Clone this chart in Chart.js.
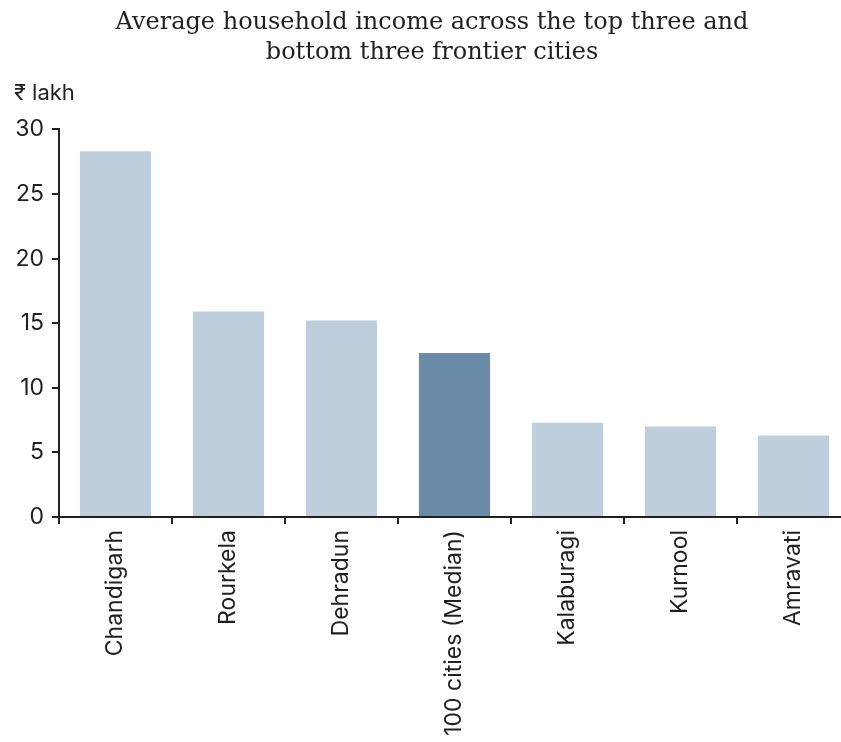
<!DOCTYPE html>
<html>
<head>
<meta charset="utf-8">
<script src="https://cdn.jsdelivr.net/npm/chart.js@4"></script>
<style>
  html, body { margin: 0; padding: 0; background: #ffffff; overflow: hidden; }
  #wrap { width: 864px; height: 742px; position: relative; }
</style>
</head>
<body>
<div id="wrap"><canvas id="chart"></canvas></div>
<script>
// Average household income, ₹ lakh
const cities = ['Chandigarh', 'Rourkela', 'Dehradun', '100 cities (Median)', 'Kalaburagi', 'Kurnool', 'Amravati'];
const income = [28.3, 15.9, 15.2, 12.7, 7.3, 7.0, 6.3];
const yTicks = [0, 5, 10, 15, 20, 25, 30];
const titleLines = ['Average household income across the top three and', 'bottom three frontier cities'];
const unitLabel = '₹ lakh';

const cityColor = '#bfcedc';
const medianColor = '#6a8ba8';
const axisColor = '#231f20';
const sansFont = "Inter, 'Noto Sans', 'DejaVu Sans', sans-serif";

new Chart(document.getElementById('chart'), {
  type: 'bar',
  data: {
    labels: cities,
    datasets: [{
      data: income,
      backgroundColor: cities.map(c => c.includes('Median') ? medianColor : cityColor),
      borderWidth: 0,
      categoryPercentage: 1,
      barPercentage: 0.63
    }]
  },
  options: {
    responsive: true,
    maintainAspectRatio: false,
    animation: false,
    layout: { padding: { left: 14, right: 14, top: 8, bottom: 0 } },
    plugins: {
      legend: { display: false },
      tooltip: { enabled: false },
      title: {
        display: true,
        text: titleLines,
        color: '#231f20',
        font: { family: "'DejaVu Serif', serif", size: 24, weight: 'normal', lineHeight: 1.25 },
        padding: { top: 0, bottom: 12 }
      },
      subtitle: {
        display: true,
        text: unitLabel,
        align: 'start',
        color: '#231f20',
        font: { family: sansFont, size: 22, weight: 'normal', lineHeight: 1.2 },
        padding: { top: 0, bottom: 23 }
      }
    },
    scales: {
      x: {
        afterFit: s => { s.height = 225; },
        grid: { display: true, drawOnChartArea: false, offset: true, tickLength: 7, color: axisColor, lineWidth: 2 },
        border: { display: true, color: axisColor, width: 2 },
        ticks: {
          color: '#231f20',
          font: { family: sansFont, size: 23 },
          maxRotation: 90,
          minRotation: 90,
          autoSkip: false,
          padding: 6
        }
      },
      y: {
        min: 0,
        max: 30,
        afterBuildTicks: s => { s.ticks = yTicks.map(v => ({ value: v })); },
        afterFit: s => { s.width = 45; },
        grid: { display: true, drawOnChartArea: false, tickLength: 7, color: axisColor, lineWidth: 2 },
        border: { display: true, color: axisColor, width: 2 },
        ticks: {
          color: '#231f20',
          font: { family: sansFont, size: 23 },
          padding: 8
        }
      }
    }
  }
});
</script>
</body>
</html>
